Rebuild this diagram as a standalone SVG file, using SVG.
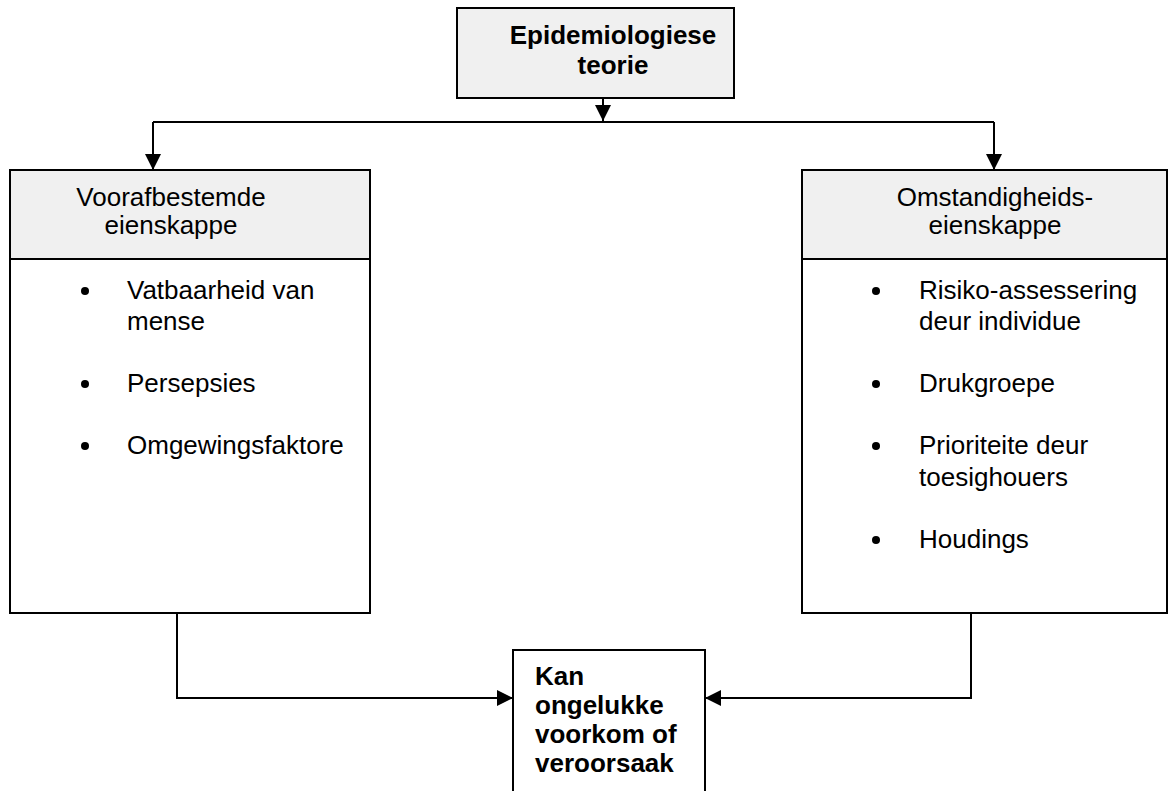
<svg xmlns="http://www.w3.org/2000/svg" width="1169" height="791" viewBox="0 0 1169 791">
  <defs>
    <style>
      .box { fill: #ffffff; stroke: #000000; stroke-width: 2; }
      .head { fill: #f0f0f0; stroke: #000000; stroke-width: 2; }
      .txt { font-family: "Liberation Sans", Arial, sans-serif; font-size: 26px; fill: #000000; }
      .bold { font-weight: bold; }
      .mid { text-anchor: middle; }
      .wire { fill: none; stroke: #000000; stroke-width: 2; }
    </style>
    <marker id="arrow" viewBox="0 0 16 16" refX="16" refY="8" markerWidth="16" markerHeight="16" markerUnits="userSpaceOnUse" orient="auto">
      <path d="M0,0 L16,8 L0,16 Z" fill="#000000"/>
    </marker>
  </defs>

  <!-- connectors -->
  <g id="connectors">
    <line class="wire" x1="603" y1="98" x2="603" y2="121" marker-end="url(#arrow)"/>
    <polyline class="wire" points="153,122 994,122"/>
    <line class="wire" x1="153" y1="122" x2="153" y2="170" marker-end="url(#arrow)"/>
    <line class="wire" x1="994" y1="122" x2="994" y2="170" marker-end="url(#arrow)"/>
    <polyline class="wire" points="177,613 177,698 513,698" marker-end="url(#arrow)"/>
    <polyline class="wire" points="971,613 971,698 705,698" marker-end="url(#arrow)"/>
  </g>

  <!-- top node -->
  <g id="epidemiologiese-teorie">
    <rect class="head" x="457" y="8" width="277" height="90"/>
    <text class="txt bold mid" x="613" y="44">Epidemiologiese</text>
    <text class="txt bold mid" x="613" y="74">teorie</text>
  </g>

  <!-- left node -->
  <g id="voorafbestemde-eienskappe">
    <rect class="box" x="10" y="170" width="360" height="443"/>
    <rect class="head" x="10" y="170" width="360" height="89"/>
    <text class="txt mid" x="171" y="206">Voorafbestemde</text>
    <text class="txt mid" x="171" y="234">eienskappe</text>
    <circle cx="85" cy="291" r="4"/>
    <text class="txt" x="127" y="299">Vatbaarheid van</text>
    <text class="txt" x="127" y="330">mense</text>
    <circle cx="85" cy="384" r="4"/>
    <text class="txt" x="127" y="392">Persepsies</text>
    <circle cx="85" cy="446" r="4"/>
    <text class="txt" x="127" y="454">Omgewingsfaktore</text>
  </g>

  <!-- right node -->
  <g id="omstandigheids-eienskappe">
    <rect class="box" x="802" y="170" width="365" height="443"/>
    <rect class="head" x="802" y="170" width="365" height="89"/>
    <text class="txt mid" x="995" y="206">Omstandigheids-</text>
    <text class="txt mid" x="995" y="234">eienskappe</text>
    <circle cx="876" cy="291" r="4"/>
    <text class="txt" x="919" y="299">Risiko-assessering</text>
    <text class="txt" x="919" y="330">deur individue</text>
    <circle cx="876" cy="384" r="4"/>
    <text class="txt" x="919" y="392">Drukgroepe</text>
    <circle cx="876" cy="446" r="4"/>
    <text class="txt" x="919" y="454">Prioriteite deur</text>
    <text class="txt" x="919" y="486">toesighouers</text>
    <circle cx="876" cy="540" r="4"/>
    <text class="txt" x="919" y="548">Houdings</text>
  </g>

  <!-- bottom node -->
  <g id="kan-ongelukke">
    <rect class="box" x="513" y="650" width="192" height="160"/>
    <text class="txt bold" x="535" y="685">Kan</text>
    <text class="txt bold" x="535" y="714">ongelukke</text>
    <text class="txt bold" x="535" y="743">voorkom of</text>
    <text class="txt bold" x="535" y="772">veroorsaak</text>
  </g>
</svg>
